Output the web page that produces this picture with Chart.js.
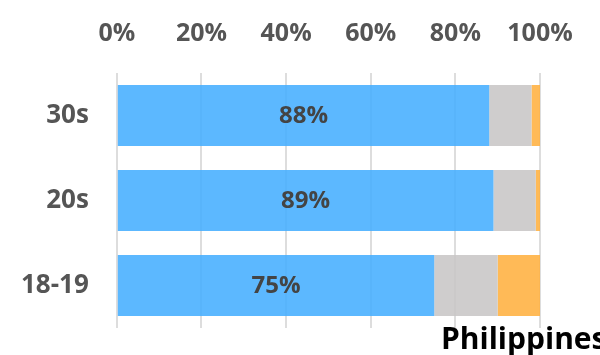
<!DOCTYPE html>
<html>
<head>
<meta charset="utf-8">
<script src="https://cdn.jsdelivr.net/npm/chart.js@4/dist/chart.umd.min.js"></script>
<style>
    html, body { margin: 0; padding: 0; background: #fff; overflow: hidden; }
    #wrap { width: 607px; height: 355px; position: relative; margin-left: -7px; }
</style>
</head>
<body>
<div id="wrap"><canvas id="chart"></canvas></div>
<script>
// Données du graphique
const categories = ['30s', '20s', '18-19'];
const blueValues = [88, 89, 75];
const grayValues = [10, 10, 15];
const orangeValues = [2, 1, 10];
const tickValues = [0, 20, 40, 60, 80, 100];
const chartTitle = 'Philippines';

// Étiquettes au centre de la série bleue + titre en bas (débordant à droite)
const labelPlugin = {
    id: 'barLabels',
    afterDatasetsDraw: function(chart) {
        const ctx = chart.ctx;
        const meta = chart.getDatasetMeta(0);
        const area = chart.chartArea;
        ctx.save();
        ctx.font = 'bold 24px "Open Sans"';
        ctx.fillStyle = '#444';
        ctx.textAlign = 'center';
        ctx.textBaseline = 'middle';
        meta.data.forEach(function(bar, i) {
            const cx = (bar.x + bar.base) / 2;
            ctx.fillText(blueValues[i] + '%', cx, bar.y + 1);
        });

        // Titre
        ctx.font = 'bold 30px "Open Sans"';
        ctx.fillStyle = '#000';
        ctx.textAlign = 'left';
        ctx.textBaseline = 'alphabetic';
        ctx.fillText(chartTitle, area.right - 99, area.bottom + 21);
        ctx.restore();
    }
};

new Chart(document.getElementById('chart'), {
    type: 'bar',
    data: {
        labels: categories,
        datasets: [
            { data: blueValues, backgroundColor: 'rgba(70,174,255,0.88)' },
            { data: grayValues, backgroundColor: 'rgba(200,198,198,0.88)' },
            { data: orangeValues, backgroundColor: 'rgba(255,176,64,0.88)' }
        ]
    },
    options: {
        indexAxis: 'y',
        responsive: true,
        maintainAspectRatio: false,
        animation: false,
        layout: { padding: { top: -5, bottom: 27, left: 0, right: 60 } },
        datasets: {
            bar: { categoryPercentage: 1, barPercentage: 0.72, borderWidth: 0 }
        },
        scales: {
            x: {
                position: 'top',
                stacked: true,
                min: 0,
                max: 100,
                afterBuildTicks: function(axis) {
                    axis.ticks = tickValues.map(function(v) { return { value: v }; });
                },
                ticks: {
                    padding: 24,
                    color: '#555',
                    font: { family: 'Open Sans', size: 25, weight: 'bold' },
                    callback: function(v) { return v + '%'; }
                },
                grid: { color: '#ddd', lineWidth: 2, drawTicks: false },
                border: { display: false }
            },
            y: {
                stacked: true,
                afterFit: function(axis) {
                    // pas de marge verticale due au padding des étiquettes
                    axis.paddingTop = 0;
                    axis.paddingBottom = 0;
                },
                ticks: {
                    padding: 28,
                    color: '#555',
                    font: { family: 'Open Sans', size: 26, weight: 'bold' }
                },
                grid: { display: false, drawTicks: false },
                border: { display: false }
            }
        },
        plugins: {
            legend: { display: false },
            tooltip: { enabled: false },
            title: { display: false }
        }
    },
    plugins: [labelPlugin]
});
</script>
</body>
</html>
